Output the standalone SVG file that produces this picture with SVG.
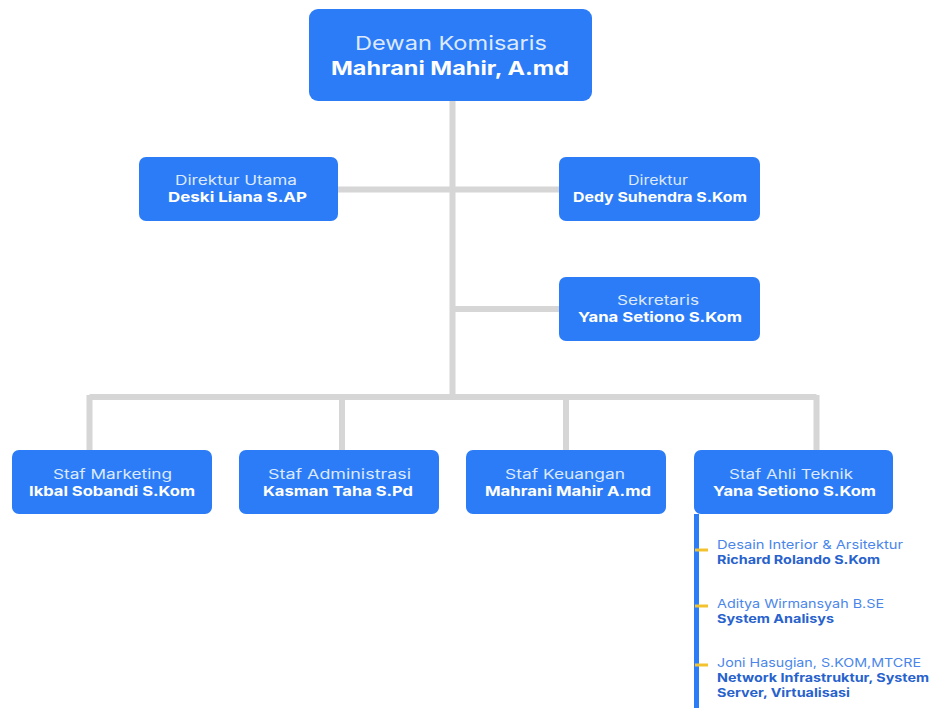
<svg xmlns="http://www.w3.org/2000/svg" width="933" height="708" viewBox="0 0 933 708">
<style>
.box{fill:#2b7cf6}
.t{font-family:Inter,"Liberation Sans",sans-serif;text-anchor:middle;fill:#dce9ff}
.b{font-family:Inter,"Liberation Sans",sans-serif;text-anchor:middle;fill:#ffffff;font-weight:700}
.line{stroke:#d6d6d6;stroke-width:6;fill:none}
.st{font-family:Inter,"Liberation Sans",sans-serif;font-size:12px;fill:#4a86ea}
.sb{font-family:Inter,"Liberation Sans",sans-serif;font-size:12px;fill:#2862cc;font-weight:700}
.tick{stroke:#f2c230;stroke-width:3}
</style>
<rect width="933" height="708" fill="#ffffff"/>
<g id="connectors">
<path class="line" d="M452.5 101V397M338 189.5H559M452.5 309H559M89.5 397H816.5M89.5 395V450M342 397V450M566 397V450M816.5 395V450"/>
<line x1="696.5" y1="514" x2="696.5" y2="708" stroke="#2b7cf6" stroke-width="5"/>
<line class="tick" x1="695" y1="550" x2="708" y2="550"/>
<line class="tick" x1="695" y1="606" x2="708" y2="606"/>
<line class="tick" x1="695" y1="665" x2="708" y2="665"/>
</g>
<g id="dewan">
<rect class="box" x="309" y="9" width="283" height="92" rx="9"/>
<text class="t" x="451" y="50" font-size="19" textLength="192" lengthAdjust="spacingAndGlyphs">Dewan Komisaris</text>
<text class="b" x="450" y="75" font-size="19" textLength="238" lengthAdjust="spacingAndGlyphs">Mahrani Mahir, A.md</text>
</g>
<g id="dirut">
<rect class="box" x="139" y="157" width="199" height="64" rx="7"/>
<text class="t" x="236" y="185" font-size="13" textLength="122" lengthAdjust="spacingAndGlyphs">Direktur Utama</text>
<text class="b" x="237.5" y="202" font-size="13.5" textLength="139" lengthAdjust="spacingAndGlyphs">Deski Liana S.AP</text>
</g>
<g id="direktur">
<rect class="box" x="559" y="157" width="201" height="64" rx="7"/>
<text class="t" x="658" y="185" font-size="13" textLength="60" lengthAdjust="spacingAndGlyphs">Direktur</text>
<text class="b" x="660" y="202" font-size="13.5" textLength="174" lengthAdjust="spacingAndGlyphs">Dedy Suhendra S.Kom</text>
</g>
<g id="sekretaris">
<rect class="box" x="559" y="277" width="201" height="64" rx="7"/>
<text class="t" x="658" y="305" font-size="13" textLength="82" lengthAdjust="spacingAndGlyphs">Sekretaris</text>
<text class="b" x="660" y="322" font-size="13.5" textLength="164" lengthAdjust="spacingAndGlyphs">Yana Setiono S.Kom</text>
</g>
<g id="marketing">
<rect class="box" x="12" y="450" width="200" height="64" rx="7"/>
<text class="t" x="112.5" y="479" font-size="13" textLength="119" lengthAdjust="spacingAndGlyphs">Staf Marketing</text>
<text class="b" x="112" y="496" font-size="13.5" textLength="166" lengthAdjust="spacingAndGlyphs">Ikbal Sobandi S.Kom</text>
</g>
<g id="administrasi">
<rect class="box" x="239" y="450" width="200" height="64" rx="7"/>
<text class="t" x="339.5" y="479" font-size="13" textLength="143" lengthAdjust="spacingAndGlyphs">Staf Administrasi</text>
<text class="b" x="338" y="496" font-size="13.5" textLength="150" lengthAdjust="spacingAndGlyphs">Kasman Taha S.Pd</text>
</g>
<g id="keuangan">
<rect class="box" x="466" y="450" width="200" height="64" rx="7"/>
<text class="t" x="565" y="479" font-size="13" textLength="120" lengthAdjust="spacingAndGlyphs">Staf Keuangan</text>
<text class="b" x="568" y="496" font-size="13.5" textLength="166" lengthAdjust="spacingAndGlyphs">Mahrani Mahir A.md</text>
</g>
<g id="teknik">
<rect class="box" x="694" y="450" width="199" height="64" rx="7"/>
<text class="t" x="791" y="479" font-size="13" textLength="124" lengthAdjust="spacingAndGlyphs">Staf Ahli Teknik</text>
<text class="b" x="794.5" y="496" font-size="13.5" textLength="163" lengthAdjust="spacingAndGlyphs">Yana Setiono S.Kom</text>
</g>
<g id="desain">
<text class="st" x="717" y="549" textLength="186" lengthAdjust="spacingAndGlyphs">Desain Interior &amp; Arsitektur</text>
<text class="sb" x="717" y="564" textLength="163" lengthAdjust="spacingAndGlyphs">Richard Rolando S.Kom</text>
</g>
<g id="aditya">
<text class="st" x="717" y="608" textLength="167" lengthAdjust="spacingAndGlyphs">Aditya Wirmansyah B.SE</text>
<text class="sb" x="717" y="623" textLength="117" lengthAdjust="spacingAndGlyphs">System Analisys</text>
</g>
<g id="joni">
<text class="st" x="717" y="667" textLength="204" lengthAdjust="spacingAndGlyphs">Joni Hasugian, S.KOM,MTCRE</text>
<text class="sb" x="717" y="682" textLength="212" lengthAdjust="spacingAndGlyphs">Network Infrastruktur, System</text>
<text class="sb" x="717" y="697" textLength="133" lengthAdjust="spacingAndGlyphs">Server, Virtualisasi</text>
</g>
</svg>
